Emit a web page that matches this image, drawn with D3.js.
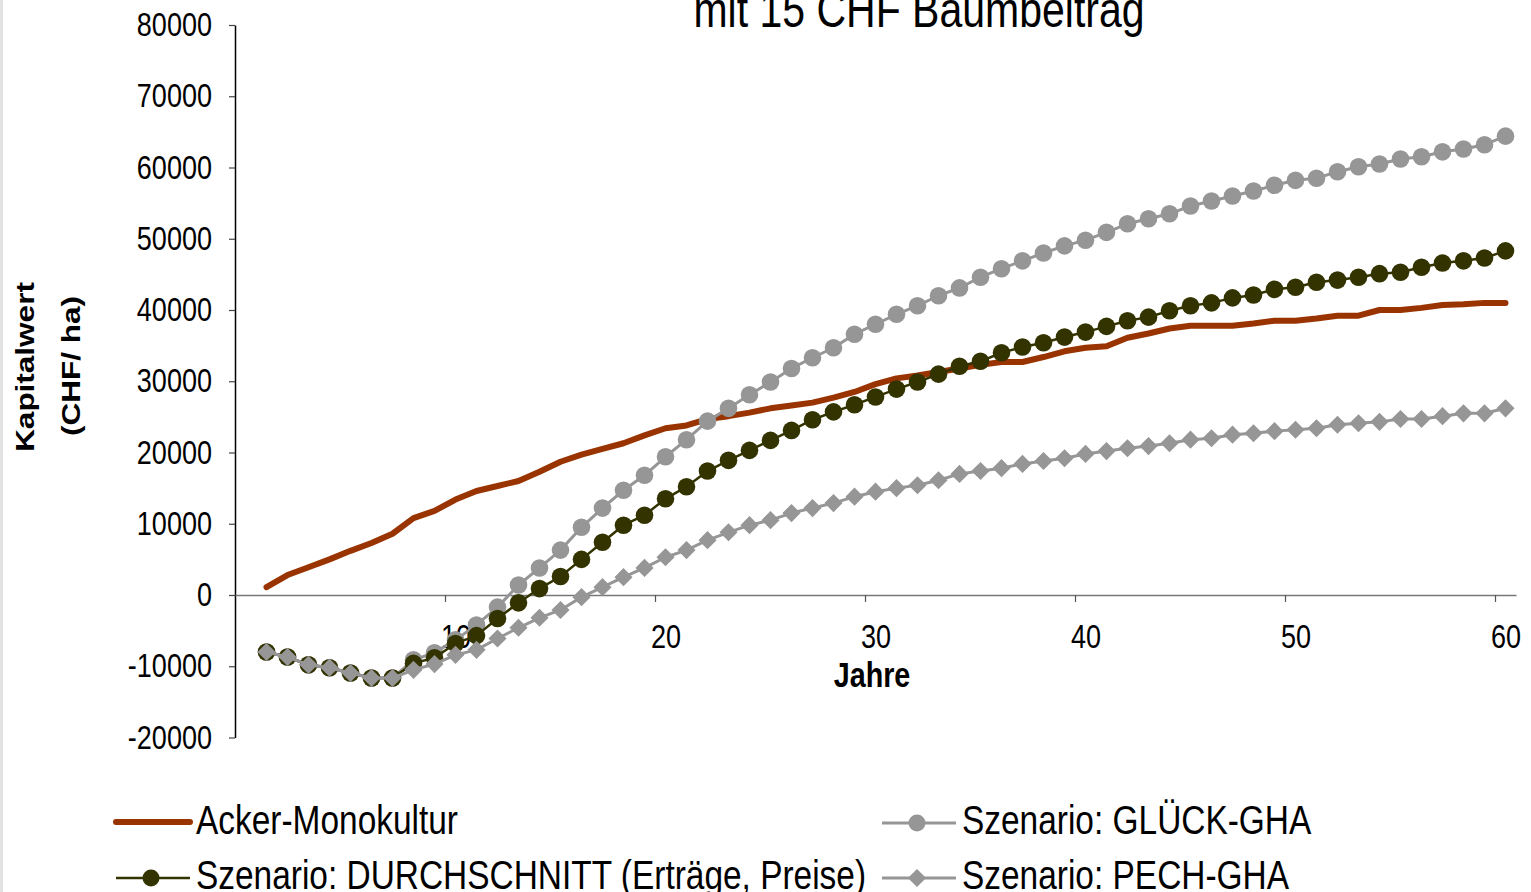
<!DOCTYPE html>
<html>
<head>
<meta charset="utf-8">
<script src="https://cdn.jsdelivr.net/npm/d3@7"></script>
<style>
  body { margin: 0; background: #fff; }
  svg { display: block; font-family: "Liberation Sans", Arial, sans-serif; }
</style>
</head>
<body>
<svg id="chart" width="1531" height="892"></svg>
<script>
// categories (Jahre)
var years = [1, 2, 3, 4, 5, 6, 7, 8, 9, 10, 11, 12, 13, 14, 15, 16, 17, 18, 19, 20,
    21, 22, 23, 24, 25, 26, 27, 28, 29, 30, 31, 32, 33, 34, 35, 36, 37, 38, 39, 40,
    41, 42, 43, 44, 45, 46, 47, 48, 49, 50, 51, 52, 53, 54, 55, 56, 57, 58, 59, 60]

var acker = [1100, 2800, 3900, 5000, 6200, 7300, 8600, 10800, 11800, 13400,
    14600, 15300, 16000, 17300, 18700, 19700, 20500, 21300, 22400, 23400,
    23800, 24700, 25100, 25600, 26200, 26600, 27000, 27700, 28500, 29600,
    30400, 30800, 31300, 31800, 32300, 32700, 32700, 33400, 34200, 34700,
    34900, 36100, 36700, 37400, 37800, 37800, 37800, 38100, 38500, 38500,
    38800, 39200, 39200, 40000, 40000, 40300, 40700, 40800, 41000, 41000]

var durchschnitt = [-8000, -8700, -9800, -10200, -10950, -11650, -11650, -9600, -8800, -6800,
    -5700, -3300, -1100, 900, 2600, 5000, 7400, 9800, 11200, 13500,
    15200, 17400, 18900, 20300, 21700, 23100, 24600, 25700, 26700, 27800,
    28900, 29900, 31000, 32100, 32800, 34000, 34800, 35400, 36200, 36900,
    37700, 38500, 39000, 39900, 40600, 41000, 41700, 42100, 42900, 43200,
    43900, 44200, 44600, 45100, 45300, 46000, 46600, 46900, 47300, 48300]

var glueck = [-8000, -8700, -9800, -10200, -10950, -11650, -11650, -9100, -8100, -6300,
    -4200, -1700, 1400, 3800, 6300, 9500, 12200, 14700, 16800, 19400,
    21800, 24400, 26200, 28100, 29900, 31800, 33300, 34700, 36600, 38000,
    39400, 40600, 42000, 43100, 44600, 45800, 46900, 48000, 49000, 49800,
    50900, 52100, 52800, 53500, 54600, 55300, 56000, 56700, 57500, 58200,
    58500, 59400, 60100, 60500, 61200, 61500, 62200, 62600, 63200, 64400]

var pech = [-8000, -8700, -9800, -10200, -10950, -11650, -11650, -10500, -9700, -8400,
    -7700, -6100, -4600, -3200, -2100, -300, 1100, 2500, 3800, 5300,
    6300, 7700, 8800, 9800, 10500, 11500, 12200, 12900, 13800, 14500,
    15000, 15400, 16100, 17000, 17400, 17800, 18400, 18800, 19200, 19800,
    20200, 20600, 20900, 21300, 21800, 22000, 22500, 22700, 23000, 23200,
    23400, 23900, 24100, 24300, 24700, 24700, 25100, 25500, 25500, 26200]

var yTicks = [-20000, -10000, 0, 10000, 20000, 30000, 40000, 50000, 60000, 70000, 80000]
var xLabelTicks = [10, 20, 30, 40, 50, 60]
var xTickMarks = [9.5, 19.5, 29.5, 39.5, 49.5, 59.5]

var titleText = 'mit 15 CHF Baumbeitrag'
var xTitle = 'Jahre'
var yTitle = ['Kapitalwert', '(CHF/ ha)']

// series in Excel order (drawing order)
var series = [
    {name: 'Acker-Monokultur', values: acker, color: '#993300', width: 6, marker: null},
    {name: 'Szenario: GLÜCK-GHA', values: glueck, color: '#969696', width: 3, marker: 'circle'},
    {name: 'Szenario: DURCHSCHNITT (Erträge, Preise)', values: durchschnitt, color: '#333300', width: 2.5, marker: 'circle'},
    {name: 'Szenario: PECH-GHA', values: pech, color: '#969696', width: 3, marker: 'diamond'}
]

var SX = 0.82   // glyphs in the picture are narrow

var svg = d3.select('#chart')

svg.append('rect').attr('x', 0).attr('y', 0).attr('width', 3).attr('height', 892).attr('fill', '#e2e2e2')

function label(x, y, text, opts) {
    opts = opts || {}
    var sx = opts.sx || SX
    return svg.append('text')
        .attr('transform', 'translate(' + x + ',' + y + ') scale(' + sx + ',1)' + (opts.rotate ? ' rotate(' + opts.rotate + ')' : ''))
        .attr('text-anchor', opts.anchor || 'start')
        .style('font-size', opts.size + 'px')
        .style('font-weight', opts.weight || 'normal')
        .attr('fill', '#000')
        .text(text)
}

var x = d3.scaleLinear().domain([-0.5, 60.5]).range([235, 1516])
var y = d3.scaleLinear().domain([-20000, 80000]).range([737.5, 25])

// Y axis
var yAxis = svg.append('g')
    .attr('transform', 'translate(235,0)')
    .call(d3.axisLeft(y).tickValues(yTicks).tickSize(6).tickSizeOuter(0).tickFormat(d => String(d)))
yAxis.select('.domain').attr('stroke', '#000').attr('stroke-width', 1.5)
yAxis.selectAll('.tick line').attr('stroke', '#444').attr('stroke-width', 1.2)
yAxis.selectAll('.tick text')
    .attr('x', -23 / SX)
    .attr('transform', 'scale(' + SX + ',1)')
    .style('font-size', '33px')
    .style('font-family', '"Liberation Sans", Arial, sans-serif')
    .attr('fill', '#000')

// X axis at y = 0
var xAxisG = svg.append('g').attr('transform', 'translate(0,' + y(0) + ')')
xAxisG.call(d3.axisBottom(x).tickValues(xTickMarks).tickSize(7).tickSizeOuter(0).tickFormat(''))
xAxisG.select('.domain').attr('stroke', '#777').attr('stroke-width', 1.5)
xAxisG.selectAll('.tick line').attr('stroke', '#555').attr('stroke-width', 1.2)

var xLabels = svg.append('g').attr('transform', 'translate(0,' + y(0) + ')')
    .call(d3.axisBottom(x).tickValues(xLabelTicks).tickSize(0).tickPadding(30))
xLabels.select('.domain').remove()
xLabels.selectAll('.tick text')
    .attr('transform', 'scale(' + SX + ',1)')
    .style('font-size', '33px')
    .style('font-family', '"Liberation Sans", Arial, sans-serif')
    .attr('fill', '#000')

// Lines and markers
var line = d3.line()
    .x((d, i) => x(years[i]))
    .y(d => y(d))

var diamond = d3.symbol().type(d3.symbolDiamond2).size(210)

function drawMarker(sel, s, cx, cy, r) {
    if (s.marker === 'circle')
        sel.append('circle').attr('cx', cx).attr('cy', cy).attr('r', r).attr('fill', s.color)
    else if (s.marker === 'diamond')
        sel.append('path').attr('d', diamond).attr('transform', 'translate(' + cx + ',' + cy + ')').attr('fill', s.color)
}

series.forEach(function(s) {
    var g = svg.append('g')
    g.append('path')
        .datum(s.values)
        .attr('d', line)
        .attr('fill', 'none')
        .attr('stroke', s.color)
        .attr('stroke-width', s.width)
        .attr('stroke-linejoin', 'round')
        .attr('stroke-linecap', 'round')
    if (s.marker)
        s.values.forEach(function(v, i) { drawMarker(g, s, x(years[i]), y(v), 8.8) })
})

// Titles
label(919, 27, titleText, {size: 50, anchor: 'middle'})
label(872, 687, xTitle, {size: 35, anchor: 'middle', weight: 'bold'})
label(34, 367, yTitle[0], {size: 31.5, anchor: 'middle', weight: 'bold', rotate: -90})
label(80, 366, yTitle[1], {size: 31.5, anchor: 'middle', weight: 'bold', rotate: -90})

// Legend (two columns, filled row by row)
var legendPos = [
    {lx: 116, ly: 822, tx: 196, ty: 834},
    {lx: 882, ly: 823, tx: 962, ty: 834},
    {lx: 116, ly: 878, tx: 196, ty: 889},
    {lx: 882, ly: 878, tx: 962, ty: 889}
]
series.forEach(function(s, i) {
    var p = legendPos[i]
    var g = svg.append('g')
    g.append('line')
        .attr('x1', p.lx).attr('x2', p.lx + 74)
        .attr('y1', p.ly).attr('y2', p.ly)
        .attr('stroke', s.color)
        .attr('stroke-width', s.width)
        .attr('stroke-linecap', s.marker ? 'butt' : 'round')
    drawMarker(g, s, p.lx + 35, p.ly, 8.5)
    label(p.tx, p.ty, s.name, {size: 40, sx: 0.836})
})
</script>
</body>
</html>
